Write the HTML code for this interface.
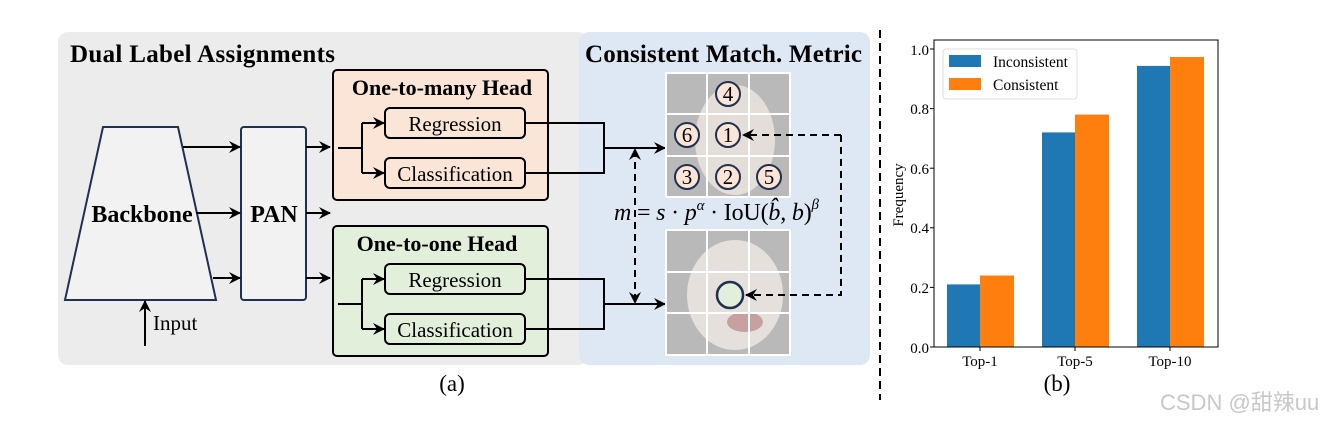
<!DOCTYPE html>
<html><head><meta charset="utf-8"><style>
body{margin:0;background:#fff;}
svg{display:block;font-family:"Liberation Serif",serif;}
</style></head><body>
<svg width="1336" height="421" viewBox="0 0 1336 421" xmlns="http://www.w3.org/2000/svg">
<defs>
<marker id="ah" markerWidth="12" markerHeight="12" refX="11" refY="6" orient="auto" markerUnits="userSpaceOnUse">
<path d="M0,0 L12,6 L0,12 L4,6 z" fill="#000"/></marker>
</defs>
<rect x="58" y="32" width="530" height="333" rx="10" fill="#ececec"/>
<rect x="579" y="32" width="291" height="333" rx="10" fill="#dde8f4"/>
<text x="70" y="62" font-size="25" font-weight="bold" textLength="265">Dual Label Assignments</text>
<text x="585" y="62" font-size="25" font-weight="bold" textLength="277">Consistent Match. Metric</text>
<polygon points="103,127 178,127 216,300 65,300" fill="#f2f2f2" stroke="#1f3050" stroke-width="2"/>
<text x="142" y="222" font-size="24" font-weight="bold" text-anchor="middle">Backbone</text>
<rect x="241" y="127" width="65" height="173" rx="3" fill="#f2f2f2" stroke="#1f3050" stroke-width="2"/>
<text x="274" y="222" font-size="24" font-weight="bold" text-anchor="middle">PAN</text>
<g stroke="#000" stroke-width="2" fill="none">
<line x1="183" y1="147" x2="240" y2="147" marker-end="url(#ah)"/>
<line x1="196" y1="213" x2="240" y2="213" marker-end="url(#ah)"/>
<line x1="213" y1="278" x2="240" y2="278" marker-end="url(#ah)"/>
<line x1="306" y1="147" x2="330" y2="147" marker-end="url(#ah)"/>
<line x1="306" y1="213" x2="330" y2="213" marker-end="url(#ah)"/>
<line x1="306" y1="278" x2="330" y2="278" marker-end="url(#ah)"/>
<line x1="145" y1="346" x2="145" y2="301" marker-end="url(#ah)"/>
</g>
<text x="153" y="330" font-size="21">Input</text>
<rect x="333" y="70" width="215" height="130" rx="4" fill="#fbe5d6" stroke="#000" stroke-width="2"/>
<rect x="333" y="226" width="215" height="130" rx="4" fill="#e2efda" stroke="#000" stroke-width="2"/>
<text x="442" y="95" font-size="22" font-weight="bold" text-anchor="middle">One-to-many Head</text>
<text x="437" y="251" font-size="22" font-weight="bold" text-anchor="middle">One-to-one Head</text>
<g fill="none" stroke="#000" stroke-width="2">
<rect x="385" y="108" width="140" height="30" rx="5"/>
<rect x="385" y="158" width="140" height="30" rx="5"/>
<rect x="385" y="264" width="140" height="30" rx="5"/>
<rect x="385" y="314" width="140" height="30" rx="5"/>
<polyline points="338,148 362,148"/><polyline points="362,123 362,173"/>
<line x1="362" y1="123" x2="384" y2="123" marker-end="url(#ah)"/>
<line x1="362" y1="173" x2="384" y2="173" marker-end="url(#ah)"/>
<polyline points="338,304 362,304"/><polyline points="362,279 362,329"/>
<line x1="362" y1="279" x2="384" y2="279" marker-end="url(#ah)"/>
<line x1="362" y1="329" x2="384" y2="329" marker-end="url(#ah)"/>
<polyline points="525,123 604,123 604,173 525,173"/>
<polyline points="525,279 604,279 604,329 525,329"/>
<line x1="604" y1="148" x2="665" y2="148" marker-end="url(#ah)"/>
<line x1="604" y1="304" x2="665" y2="304" marker-end="url(#ah)"/>
</g>
<g font-size="21" text-anchor="middle">
<text x="455" y="131">Regression</text>
<text x="455" y="181">Classification</text>
<text x="455" y="287">Regression</text>
<text x="455" y="337">Classification</text>
</g>
<g>
<rect x="666" y="73" width="124" height="124" fill="#b9b9b9"/>
<ellipse cx="735" cy="140" rx="40" ry="55" fill="#e4ddd8"/>
<rect x="666" y="230" width="124" height="125" fill="#b9b9b9"/>
<ellipse cx="735" cy="295" rx="48" ry="55" fill="#e6e0dc"/>
<ellipse cx="745" cy="322" rx="18" ry="10" fill="#c9a0a0"/>
<g stroke="#fff" stroke-width="2" fill="none">
<rect x="666" y="73" width="124" height="124"/>
<line x1="707" y1="73" x2="707" y2="197"/><line x1="749" y1="73" x2="749" y2="197"/>
<line x1="666" y1="114" x2="790" y2="114"/><line x1="666" y1="156" x2="790" y2="156"/>
<rect x="666" y="230" width="124" height="125"/>
<line x1="707" y1="230" x2="707" y2="355"/><line x1="749" y1="230" x2="749" y2="355"/>
<line x1="666" y1="272" x2="790" y2="272"/><line x1="666" y1="313" x2="790" y2="313"/>
</g>
<g fill="#fbe5d6" stroke="#1f3050" stroke-width="2">
<circle cx="728" cy="94" r="12"/><circle cx="687" cy="135" r="12"/><circle cx="728" cy="135" r="12"/>
<circle cx="687" cy="177" r="12"/><circle cx="728" cy="177" r="12"/><circle cx="769" cy="177" r="12"/>
</g>
<circle cx="730" cy="295" r="13" fill="#e2efda" stroke="#1f3050" stroke-width="2.5"/>
<g font-size="21" text-anchor="middle">
<text x="728" y="101">4</text><text x="687" y="142">6</text><text x="728" y="142">1</text>
<text x="687" y="184">3</text><text x="728" y="184">2</text><text x="769" y="184">5</text>
</g>
</g>
<g stroke="#000" stroke-width="2" fill="none" stroke-dasharray="7,5">
<polyline points="841,135 841,295 746,295"/>
<line x1="841" y1="135" x2="746" y2="135"/>
<line x1="635" y1="150" x2="635" y2="302"/>
</g>
<g fill="#000">
<path d="M742,135 l12,-6 l-4,6 l4,6 z"/><path d="M745,295 l12,-6 l-4,6 l4,6 z"/>
<path d="M635,148 l-6,12 l6,-4 l6,4 z"/><path d="M635,304 l-6,-12 l6,4 l6,-4 z"/>
</g>
<text x="614" y="220" font-size="24" font-style="italic" textLength="205">m <tspan font-style="normal">=</tspan> s <tspan font-style="normal">·</tspan> p<tspan font-size="15" dy="-10">α</tspan><tspan dy="10" font-style="normal"> · IoU(</tspan>b̂, b<tspan font-style="normal">)</tspan><tspan font-size="15" dy="-11">β</tspan></text>
<text x="452" y="391" font-size="23" text-anchor="middle">(a)</text>
<line x1="880" y1="30" x2="880" y2="400" stroke="#000" stroke-width="2" stroke-dasharray="8,5"/>
<g>
<rect x="947" y="284.4" width="33" height="62.6" fill="#1f77b4"/>
<rect x="980" y="275.5" width="34" height="71.5" fill="#ff7f0e"/>
<rect x="1042" y="132.4" width="33" height="214.6" fill="#1f77b4"/>
<rect x="1075" y="114.6" width="34" height="232.4" fill="#ff7f0e"/>
<rect x="1137" y="65.9" width="33" height="281.1" fill="#1f77b4"/>
<rect x="1170" y="57" width="34" height="290" fill="#ff7f0e"/>
<rect x="934" y="40" width="284" height="307" fill="none" stroke="#000" stroke-width="1"/>
<g stroke="#000" stroke-width="1">
<line x1="930" y1="347" x2="934" y2="347"/><line x1="930" y1="287.4" x2="934" y2="287.4"/>
<line x1="930" y1="227.8" x2="934" y2="227.8"/><line x1="930" y1="168.2" x2="934" y2="168.2"/>
<line x1="930" y1="108.6" x2="934" y2="108.6"/><line x1="930" y1="49" x2="934" y2="49"/>
<line x1="980" y1="347" x2="980" y2="351"/><line x1="1075" y1="347" x2="1075" y2="351"/><line x1="1170" y1="347" x2="1170" y2="351"/>
</g>
<g font-size="15" text-anchor="end">
<text x="929" y="353">0.0</text><text x="929" y="293">0.2</text><text x="929" y="233">0.4</text>
<text x="929" y="174">0.6</text><text x="929" y="114">0.8</text><text x="929" y="55">1.0</text>
</g>
<g font-size="15" text-anchor="middle">
<text x="980" y="366">Top-1</text><text x="1075" y="366">Top-5</text><text x="1170" y="366">Top-10</text>
</g>
<text transform="translate(903,195) rotate(-90)" font-size="15" text-anchor="middle">Frequency</text>
<rect x="943" y="49" width="134" height="50" rx="3" fill="#fff" stroke="#ddd"/>
<rect x="949" y="55" width="32" height="12" fill="#1f77b4"/>
<rect x="949" y="78" width="32" height="12" fill="#ff7f0e"/>
<text x="993" y="67" font-size="15.5">Inconsistent</text>
<text x="993" y="90" font-size="15.5">Consistent</text>
<text x="1057" y="391" font-size="23" text-anchor="middle">(b)</text>
</g>
<text x="1160" y="410" font-size="22" fill="#c8c8c8" font-family="Liberation Sans, Noto Sans CJK SC, sans-serif">CSDN @甜辣uu</text>
</svg>
</body></html>
